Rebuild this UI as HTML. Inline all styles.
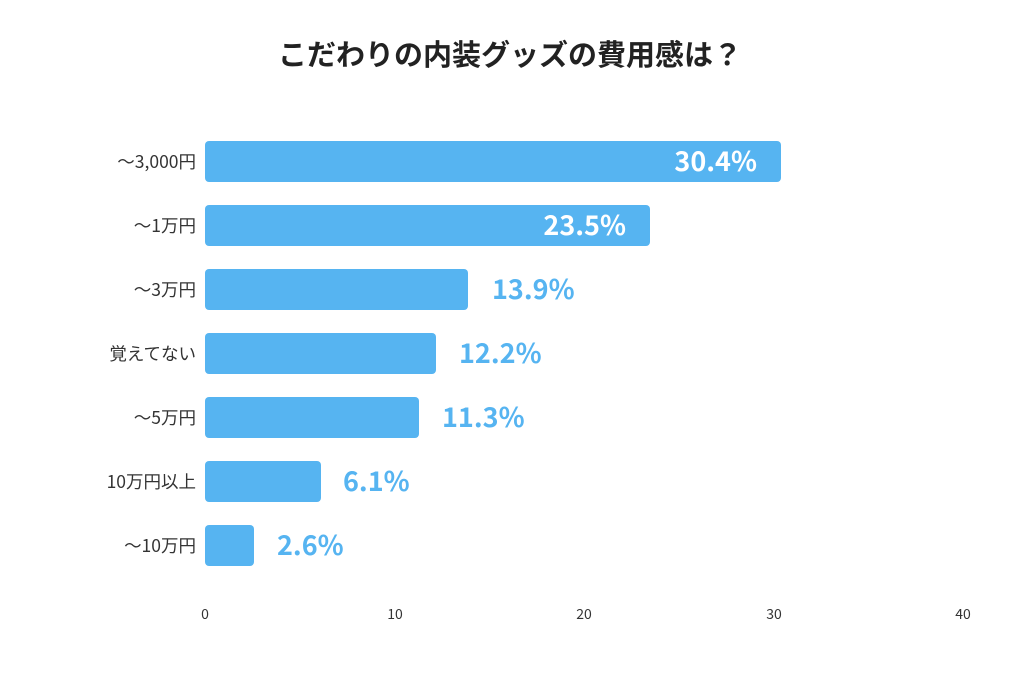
<!DOCTYPE html>
<html><head><meta charset="utf-8"><style>
body{margin:0;background:#fff;width:1024px;height:695px;overflow:hidden;font-family:"Noto Sans CJK JP",sans-serif;}
</style></head><body>
<svg width="1024" height="695" xmlns="http://www.w3.org/2000/svg" style="font-family:'Noto Sans CJK JP',sans-serif">
<text x="510" y="65" text-anchor="middle" font-size="29" font-weight="bold" fill="#222">こだわりの内装グッズの費用感は？</text>
<g fill="#56b4f1">
<rect x="205" y="141" width="576" height="41" rx="4"/>
<rect x="205" y="205" width="445" height="41" rx="4"/>
<rect x="205" y="269" width="263" height="41" rx="4"/>
<rect x="205" y="333" width="231" height="41" rx="4"/>
<rect x="205" y="397" width="214" height="41" rx="4"/>
<rect x="205" y="461" width="116" height="41" rx="4"/>
<rect x="205" y="525" width="49" height="41" rx="4"/>
</g>
<g font-size="17.5" fill="#333" text-anchor="end">
<text x="196" y="168">〜3,000円</text>
<text x="196" y="232">〜1万円</text>
<text x="196" y="296">〜3万円</text>
<text x="196" y="360">覚えてない</text>
<text x="196" y="424">〜5万円</text>
<text x="196" y="488">10万円以上</text>
<text x="196" y="552">〜10万円</text>
</g>
<g font-size="27" font-weight="bold">
<text x="757" y="171" text-anchor="end" fill="#fff">30.4%</text>
<text x="626" y="235" text-anchor="end" fill="#fff">23.5%</text>
<text x="492" y="299" fill="#56b4f1">13.9%</text>
<text x="459" y="363" fill="#56b4f1">12.2%</text>
<text x="442" y="427" fill="#56b4f1">11.3%</text>
<text x="343" y="491" fill="#56b4f1">6.1%</text>
<text x="277" y="555" fill="#56b4f1">2.6%</text>
</g>
<g font-size="14" fill="#333" text-anchor="middle">
<text x="205" y="619">0</text>
<text x="395" y="619">10</text>
<text x="584" y="619">20</text>
<text x="774" y="619">30</text>
<text x="963" y="619">40</text>
</g>
</svg>
</body></html>
